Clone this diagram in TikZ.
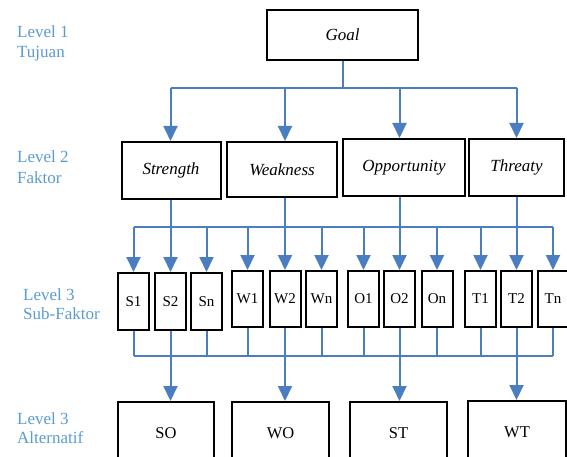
\documentclass[tikz,border=0pt]{standalone}
\usepackage{fontspec}
\IfFontExistsTF{LiberationSerif-Regular.ttf}{%
  \setmainfont{LiberationSerif}[Extension=.ttf, UprightFont=*-Regular, ItalicFont=*-Italic, BoldFont=*-Bold, BoldItalicFont=*-BoldItalic]}{%
  \setmainfont{Liberation Serif}}
\usetikzlibrary{arrows.meta}
\definecolor{lineblue}{RGB}{74,126,193}
\definecolor{textblue}{RGB}{91,155,213}
\tikzset{
  box/.style={draw=black, line width=2pt, inner sep=0pt, align=center},
  lbl/.style={text=textblue, anchor=base west, inner sep=0pt, font=\fontsize{17}{20}\selectfont},
  conn/.style={draw=lineblue, line width=2pt},
  arr/.style={conn, -{Triangle[width=14pt,length=15pt]}},
  ital/.style={font=\fontsize{17}{20}\selectfont\itshape},
  subbox/.style={box, minimum width=31pt, font=\fontsize{15}{18}\selectfont},
  altbox/.style={box, minimum height=62pt, font=\fontsize{16.5}{20}\selectfont},
}
\begin{document}
\begin{tikzpicture}[x=1pt,y=-1pt]
\useasboundingbox (0,0) rectangle (567,457);
\fill[white] (0,0) rectangle (567,457);
\clip (0,0) rectangle (567,457);

% left labels
\node[lbl] (l1a) at (17,38) {Level 1};
\node[lbl] (l1b) at (17,58) {Tujuan};
\node[lbl] (l2a) at (17,163) {Level 2};
\node[lbl] (l2b) at (17,183) {Faktor};
\node[lbl] (l3a) at (23,300) {Level 3};
\node[lbl] (l3b) at (23,319) {Sub-Faktor};
\node[lbl] (l4a) at (17,424) {Level 3};
\node[lbl] (l4b) at (17,443) {Alternatif};

% level 1
\node[box, ital, minimum width=151pt, minimum height=50pt] (goal) at (342.5,35) {Goal};

% level 2
\node[box, ital, minimum width=99pt, minimum height=57pt] (st) at (171,170.5) {Strength};
\node[box, ital, minimum width=110pt, minimum height=55pt] (wk) at (282,169.5) {Weakness};
\node[box, ital, minimum width=122pt, minimum height=57pt] (op) at (404,167.5) {Opportunity};
\node[box, ital, minimum width=95pt, minimum height=57pt] (th) at (516.5,167.5) {Threaty};

% level 3
\node[subbox, minimum height=57pt] (s1) at (133.5,301.5) {S1};
\node[subbox, minimum height=57pt] (s2) at (170.5,301.5) {S2};
\node[subbox, minimum height=57pt] (sn) at (206.5,301.5) {Sn};
\node[subbox, minimum height=56pt] (w1) at (247.5,299) {W1};
\node[subbox, minimum height=56pt] (w2) at (285,299) {W2};
\node[subbox, minimum height=56pt] (wn) at (321.5,299) {Wn};
\node[subbox, minimum height=56pt] (o1) at (363.5,299) {O1};
\node[subbox, minimum height=56pt] (o2) at (399.5,299) {O2};
\node[subbox, minimum height=56pt] (on) at (437,299) {On};
\node[subbox, minimum height=56pt] (t1) at (480.5,299) {T1};
\node[subbox, minimum height=56pt] (t2) at (516.5,299) {T2};
\node[subbox, minimum height=56pt] (tn) at (553,299) {Tn};

% level 4
\node[altbox, minimum width=96pt] (so) at (166,433) {SO};
\node[altbox, minimum width=97pt] (wo) at (280.5,433) {WO};
\node[altbox, minimum width=97pt] (stt) at (398.5,433) {ST};
\node[altbox, minimum width=98pt] (wt) at (517,432) {WT};

% bus levels
\coordinate (gbus) at (0,88);
\coordinate (tbus) at (0,227);
\coordinate (bbus) at (0,356);

% goal to level 2
\draw[conn] (goal.south) -- (goal.south |- gbus);
\draw[conn] (s2.north |- gbus) -- (t2.north |- gbus);
\draw[arr] (s2.north |- gbus) -- (s2.north |- st.north);
\draw[arr] (w2.north |- gbus) -- (w2.north |- wk.north);
\draw[arr] (o2.north |- gbus) -- (o2.north |- op.north);
\draw[arr] (t2.north |- gbus) -- (t2.north |- th.north);

% level 2 to level 3
\draw[conn] (s2.north |- st.south) -- (s2.north |- tbus);
\draw[conn] (w2.north |- wk.south) -- (w2.north |- tbus);
\draw[conn] (o2.north |- op.south) -- (o2.north |- tbus);
\draw[conn] (t2.north |- th.south) -- (t2.north |- tbus);
\draw[conn] (s1.north |- tbus) -- (tn.north |- tbus);
\foreach \n in {s1,s2,sn,w1,w2,wn,o1,o2,on,t1,t2,tn}{
  \draw[arr] (\n.north |- tbus) -- (\n.north);
  \draw[conn] (\n.south) -- (\n.south |- bbus);
}
\draw[conn] (s1.south |- bbus) -- (tn.south |- bbus);

% level 3 to level 4
\draw[arr] (s2.south) -- (s2.south |- so.north);
\draw[arr] (w2.south) -- (w2.south |- wo.north);
\draw[arr] (o2.south) -- (o2.south |- stt.north);
\draw[arr] (t2.south) -- (t2.south |- wt.north);
\end{tikzpicture}
\end{document}
